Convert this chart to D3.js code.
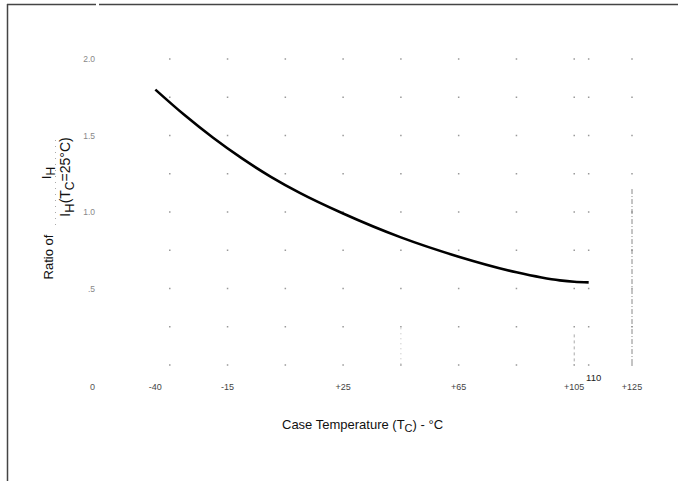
<!DOCTYPE html>
<html>
<head>
<meta charset="utf-8">
<script src="https://cdn.jsdelivr.net/npm/d3@7/dist/d3.min.js"></script>
<style>
  html, body { margin: 0; padding: 0; background: #fff; }
  svg { display: block; font-family: "Liberation Sans", Arial, Helvetica, sans-serif; }
</style>
</head>
<body>
<svg id="chart" width="678" height="481"></svg>
<script>
// ---- data ----
const temperatures = [-40, -30, -20, -10, 0, 10, 25, 45, 65, 85, 100, 105, 110];
const ratios       = [1.80, 1.635, 1.485, 1.35, 1.23, 1.125, 0.99, 0.834, 0.708, 0.606, 0.553, 0.544, 0.54];
const xTickValues  = [-40, -15, 25, 65, 105, 125];
const xTickLabels  = ["-40", "-15", "+25", "+65", "+105", "+125"];
const yTickValues  = [0.5, 1.0, 1.5, 2.0];
const yTickLabels  = [".5", "1.0", "1.5", "2.0"];
const gridColumns  = [-35, -15, 5, 25, 45, 65, 85, 105, 110, 125];
const gridRows     = [0, 0.25, 0.5, 0.75, 1.0, 1.25, 1.5, 1.75, 2.0];

const svg = d3.select("#chart");
const x = d3.scaleLinear().domain([-55, 125]).range([112, 632]);
const y = d3.scaleLinear().domain([0, 2]).range([365, 59]);

// frame (top with small gap, and left)
svg.append("line").attr("x1", 7).attr("y1", 4.5).attr("x2", 96).attr("y2", 4.5)
  .attr("stroke", "#444").attr("stroke-width", 1.5);
svg.append("line").attr("x1", 99).attr("y1", 4.5).attr("x2", 678).attr("y2", 4.5)
  .attr("stroke", "#444").attr("stroke-width", 1.5);
svg.append("line").attr("x1", 7.5).attr("y1", 4).attr("x2", 7.5).attr("y2", 481)
  .attr("stroke", "#444").attr("stroke-width", 1.5);

// dot grid
const dots = [];
gridColumns.forEach(c => gridRows.forEach(r => dots.push([c, r])));
svg.append("g").selectAll("rect").data(dots).enter().append("rect")
  .attr("x", d => x(d[0]) - 0.75).attr("y", d => y(d[1]) - 0.75)
  .attr("width", 1.5).attr("height", 1.5).attr("fill", "#999");

// faint vertical dashed guides
svg.append("line").attr("x1", x(125)).attr("x2", x(125)).attr("y1", y(1.15)).attr("y2", y(0))
  .attr("stroke", "#888").attr("stroke-width", 1).attr("stroke-dasharray", "5,2,1,2");
svg.append("line").attr("x1", x(105)).attr("x2", x(105)).attr("y1", y(0.2)).attr("y2", y(0))
  .attr("stroke", "#aaa").attr("stroke-width", 1).attr("stroke-dasharray", "3,3");
svg.append("line").attr("x1", x(45)).attr("x2", x(45)).attr("y1", y(0.24)).attr("y2", y(0))
  .attr("stroke", "#bbb").attr("stroke-width", 1).attr("stroke-dasharray", "1,4");

// curve
const pts = temperatures.map((t, i) => [t, ratios[i]]);
svg.append("path").datum(pts)
  .attr("d", d3.line().x(d => x(d[0])).y(d => y(d[1])).curve(d3.curveMonotoneX))
  .attr("fill", "none").attr("stroke", "#000").attr("stroke-width", 2.6);

// y tick labels
svg.append("g").selectAll("text").data(yTickValues).enter().append("text")
  .attr("x", 95).attr("y", d => y(d) + 3)
  .attr("text-anchor", "end").attr("font-size", 8.5).attr("fill", "#888")
  .text((d, i) => yTickLabels[i]);
// origin label
svg.append("text").attr("x", 95).attr("y", 390).attr("text-anchor", "end")
  .attr("font-size", 9).attr("fill", "#555").text("0");

// x tick labels
svg.append("g").selectAll("text").data(xTickValues).enter().append("text")
  .attr("x", d => x(d)).attr("y", 390)
  .attr("text-anchor", "middle").attr("font-size", 9).attr("fill", "#444")
  .text((d, i) => xTickLabels[i]);
svg.append("text").attr("x", x(110) + 5).attr("y", 381).attr("text-anchor", "middle")
  .attr("font-size", 9.5).attr("fill", "#222").text("110");

// x title
const xt = svg.append("text").attr("x", 282).attr("y", 429)
  .attr("font-size", 13).attr("fill", "#111");
xt.append("tspan").text("Case Temperature (T");
xt.append("tspan").attr("font-size", 11).attr("dy", 3).text("C");
xt.append("tspan").attr("dy", -3).text(") - °C");

// y title
const yt = svg.append("g");
yt.append("text").attr("transform", "translate(53,257) rotate(-90)")
  .attr("text-anchor", "middle").attr("font-size", 13).attr("fill", "#111").text("Ratio of");
const num = yt.append("text").attr("transform", "translate(51,173) rotate(-90)")
  .attr("text-anchor", "middle").attr("font-size", 13).attr("fill", "#111");
num.append("tspan").text("I");
num.append("tspan").attr("font-size", 12).attr("dy", 4).text("H");
const den = yt.append("text").attr("transform", "translate(70,177) rotate(-90)")
  .attr("text-anchor", "middle").attr("font-size", 14).attr("fill", "#111");
den.append("tspan").text("I");
den.append("tspan").attr("font-size", 13).attr("dy", 4).text("H");
den.append("tspan").attr("dy", -4).text("(T");
den.append("tspan").attr("font-size", 12).attr("dy", 4).text("C");
den.append("tspan").attr("dy", -4).text("=25°C)");
yt.append("line").attr("x1", 55.5).attr("x2", 55.5).attr("y1", 140).attr("y2", 228)
  .attr("stroke", "#aaa").attr("stroke-width", 1).attr("stroke-dasharray", "1,5");
</script>
</body>
</html>
